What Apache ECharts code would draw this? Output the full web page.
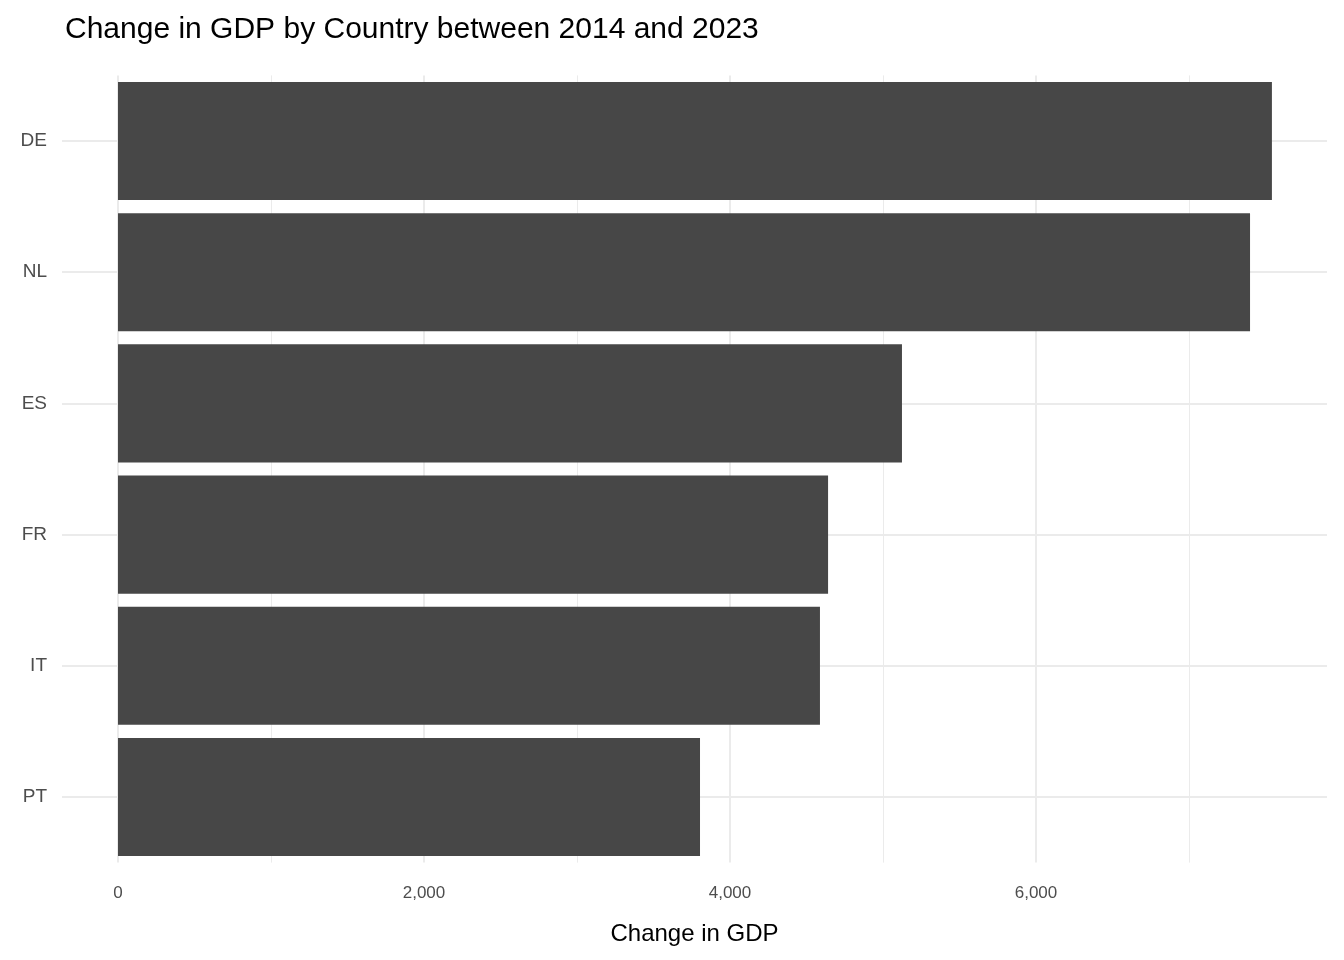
<!DOCTYPE html>
<html>
<head>
<meta charset="utf-8">
<script src="https://cdn.jsdelivr.net/npm/echarts@6/dist/echarts.min.js"></script>
<style>html,body{margin:0;padding:0;background:#fff}#chart{width:1344px;height:960px}</style>
</head>
<body>
<div id="chart"></div>
<script>
var countries = ['PT', 'IT', 'FR', 'ES', 'NL', 'DE'];
var gdpChange = [3804, 4588, 4641, 5124, 7399, 7542];
var xTicks = [0, 2000, 4000, 6000];
var xMinor = [1000, 3000, 5000, 7000];

var chart = echarts.init(document.getElementById('chart'), null, { renderer: 'canvas' });

var gridLines = [];
xTicks.forEach(function (v) { gridLines.push({ xAxis: v, lineStyle: { width: 2 } }); });
xMinor.forEach(function (v) { gridLines.push({ xAxis: v, lineStyle: { width: 1 } }); });
countries.forEach(function (c) { gridLines.push({ yAxis: c, lineStyle: { width: 2 } }); });

var option = {
  animation: false,
  textStyle: { fontFamily: 'Liberation Sans, Arial, sans-serif' },
  title: {
    text: 'Change in GDP by Country between 2014 and 2023',
    left: 60, top: 10,
    textStyle: { fontSize: 30, fontWeight: 'normal', color: '#000' }
  },
  grid: { left: 62, right: 17, top: 75.4, bottom: 97.4, containLabel: false },
  xAxis: {
    type: 'value', min: -366, max: 7902,
    name: 'Change in GDP', nameLocation: 'middle', nameGap: 60,
    nameTextStyle: { fontSize: 24, color: '#000' },
    axisLine: { show: false }, axisTick: { show: false }, splitLine: { show: false },
    axisLabel: { customValues: xTicks, color: '#4d4d4d', fontSize: 17, margin: 22 }
  },
  yAxis: {
    type: 'category', data: countries,
    axisLine: { show: false }, axisTick: { show: false }, splitLine: { show: false },
    axisLabel: { color: '#4d4d4d', fontSize: 19, margin: 15 }
  },
  series: [{
    type: 'bar', data: gdpChange, barCategoryGap: '10%',
    itemStyle: { color: '#474747' }, z: 3,
    markLine: {
      silent: true, symbol: 'none', label: { show: false }, z: 1,
      lineStyle: { color: '#ebebeb', type: 'solid' },
      data: gridLines
    }
  }]
};
chart.setOption(option);
</script>
</body>
</html>
